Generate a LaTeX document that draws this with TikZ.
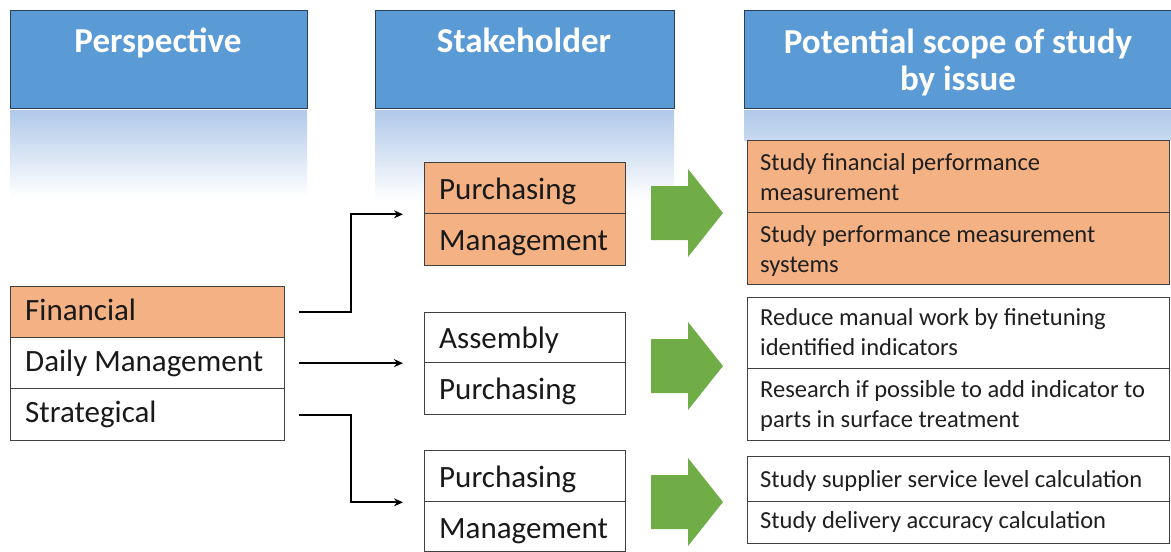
\documentclass[tikz,border=0pt]{standalone}
\usepackage{fontspec}
\setmainfont{Carlito}
\usetikzlibrary{arrows.meta}
\definecolor{headblue}{HTML}{5B9BD5}
\definecolor{headedge}{HTML}{2B3F5C}
\definecolor{reflect}{RGB}{176,201,233}
\definecolor{peach}{HTML}{F4B183}
\definecolor{gridline}{HTML}{404040}
\definecolor{leaf}{HTML}{70AD47}
\begin{document}
\begin{tikzpicture}[x=1pt,y=-1pt,
  header/.style={draw=headedge, line width=1.2pt, fill=headblue, inner sep=0pt, anchor=north west},
  cell/.style={draw=gridline, line width=1.3pt, inner sep=0pt, anchor=north west},
  headtxt/.style={text=white, font=\bfseries\fontsize{35}{38}\selectfont, anchor=base, inner sep=0pt},
  rowtxt/.style={font=\fontsize{31}{36}\selectfont, anchor=base west, inner sep=0pt, text=black!90},
  scopetxt/.style={font=\fontsize{24.5}{30}\selectfont, anchor=base west, inner sep=0pt, text=black!88},
  conn/.style={line width=1.8pt, -{Stealth[length=9pt,width=8pt]}},
  blockarrow/.style={fill=leaf}]
\useasboundingbox (0,0) rectangle (1171,552);

% fading reflections under the column headers
\shade[top color=reflect, bottom color=white] (10,110) rectangle (307,197);
\shade[top color=reflect, bottom color=white] (375,110) rectangle (674,200);
\shade[top color=reflect, bottom color=reflect!70!white] (744,110) rectangle (1172,140);

% column headers
\node[header, minimum width=297pt, minimum height=98pt] (hpersp) at (10,10) {};
\node[header, minimum width=299pt, minimum height=98pt] (hstake) at (375,10) {};
\node[header, minimum width=430pt, minimum height=98pt] (hscope) at (744,10) {};
\node[headtxt] (tpersp) at (158,52) {Perspective};
\node[headtxt] (tstake) at (524,52) {Stakeholder};
\node[headtxt] (tscope1) at (958,53) {Potential scope of study};
\node[headtxt] (tscope2) at (958,90) {by issue};

% perspectives
\node[cell, fill=peach, minimum width=274pt, minimum height=51pt] (fin) at (10,286) {};
\node[cell, fill=white, minimum width=274pt, minimum height=51pt] (daily) at (10,337) {};
\node[cell, fill=white, minimum width=274pt, minimum height=52pt] (strat) at (10,388) {};
\node[rowtxt] (tfin) at (25,320) {Financial};
\node[rowtxt] (tdaily) at (25,371) {Daily Management};
\node[rowtxt] (tstrat) at (25,422) {Strategical};

% stakeholders
\node[cell, fill=peach, minimum width=201pt, minimum height=51pt] (sh1a) at (424,162) {};
\node[cell, fill=peach, minimum width=201pt, minimum height=52pt] (sh1b) at (424,213) {};
\node[cell, fill=white, minimum width=201pt, minimum height=50pt] (sh2a) at (424,312) {};
\node[cell, fill=white, minimum width=201pt, minimum height=52pt] (sh2b) at (424,362) {};
\node[cell, fill=white, minimum width=201pt, minimum height=51pt] (sh3a) at (424,450) {};
\node[cell, fill=white, minimum width=201pt, minimum height=50pt] (sh3b) at (424,501) {};
\node[rowtxt] (tsh1a) at (439,199) {Purchasing};
\node[rowtxt] (tsh1b) at (439,250) {Management};
\node[rowtxt] (tsh2a) at (439,348) {Assembly};
\node[rowtxt] (tsh2b) at (439,399) {Purchasing};
\node[rowtxt] (tsh3a) at (439,487) {Purchasing};
\node[rowtxt] (tsh3b) at (439,538) {Management};

% scope of study
\node[cell, fill=peach, minimum width=422pt, minimum height=72pt] (sc1a) at (747,140) {};
\node[cell, fill=peach, minimum width=422pt, minimum height=72pt] (sc1b) at (747,212) {};
\node[cell, fill=white, minimum width=422pt, minimum height=71pt] (sc2a) at (747,297) {};
\node[cell, fill=white, minimum width=422pt, minimum height=72pt] (sc2b) at (747,368) {};
\node[cell, fill=white, minimum width=422pt, minimum height=45pt] (sc3a) at (747,456) {};
\node[cell, fill=white, minimum width=422pt, minimum height=42pt] (sc3b) at (747,501) {};
\node[scopetxt] (tsc1a1) at (760,170) {Study financial performance};
\node[scopetxt] (tsc1a2) at (760,200) {measurement};
\node[scopetxt] (tsc1b1) at (760,242) {Study performance measurement};
\node[scopetxt] (tsc1b2) at (760,272) {systems};
\node[scopetxt] (tsc2a1) at (760,325) {Reduce manual work by finetuning};
\node[scopetxt] (tsc2a2) at (760,355) {identified indicators};
\node[scopetxt] (tsc2b1) at (760,397) {Research if possible to add indicator to};
\node[scopetxt] (tsc2b2) at (760,427) {parts in surface treatment};
\node[scopetxt] (tsc3a) at (760,487) {Study supplier service level calculation};
\node[scopetxt] (tsc3b) at (760,528) {Study delivery accuracy calculation};

% green block arrows from stakeholders to scope
\foreach \c in {213,366,502}
  \fill[blockarrow] (651,\c-27) -- (688,\c-27) -- (688,\c-44) -- (723,\c)
    -- (688,\c+44) -- (688,\c+27) -- (651,\c+27) -- cycle;

% connectors from perspectives to stakeholders
\draw[conn] ([xshift=14pt]fin.east) -- ++(52,0) |- ([xshift=-21pt]sh1a.south west);
\draw[conn] ([xshift=14pt]daily.east) -- ([xshift=-21pt]daily.east -| sh2a.west);
\draw[conn] ([xshift=14pt]strat.east) -- ++(52,0) |- ([xshift=-21pt]sh3a.south west);
\end{tikzpicture}
\end{document}
